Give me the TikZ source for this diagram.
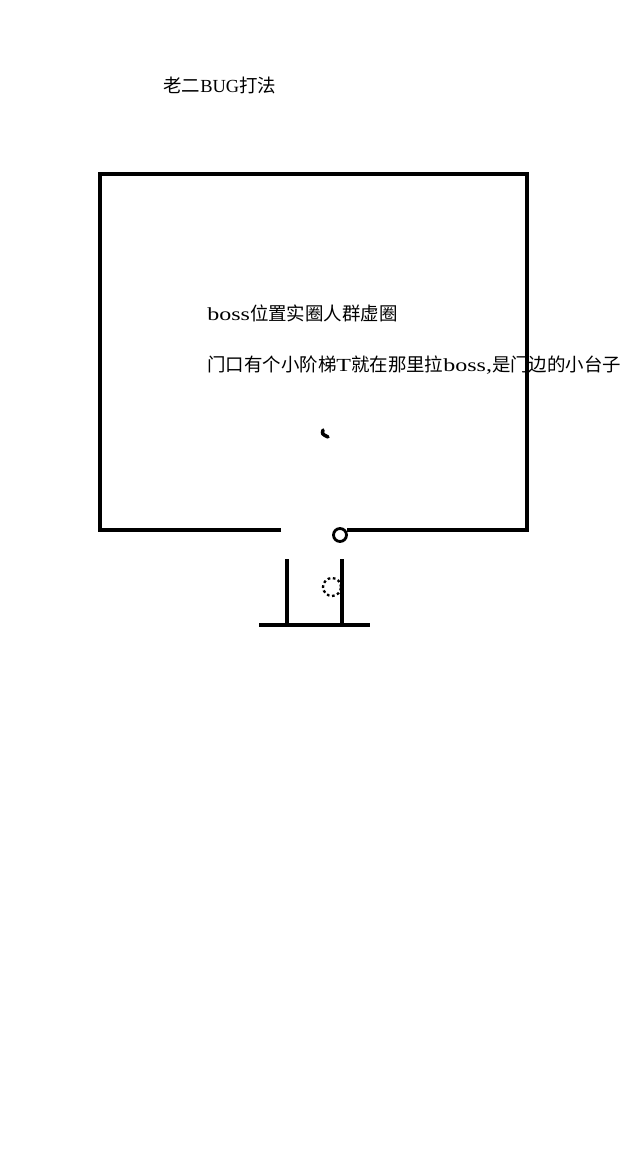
\documentclass[tikz,border=0pt]{standalone}
\usepackage{fontspec}
\newfontfamily\cjk{Noto Sans CJK SC}
\newfontfamily\lat[FakeStretch=1.3]{Liberation Serif}
\newfontfamily\latn{Liberation Serif}
\usepackage{tikz}
\usetikzlibrary{calc,positioning}

\begin{document}
\begin{tikzpicture}[
            x=0.02cm,y=-0.02cm,
            wall/.style={line width=1.8pt},
            txt/.style={anchor=base west,inner sep=0pt,font=\fontsize{10.5pt}{12pt}\cjk},
            boss/.style={draw,circle,line width=1.6pt,inner sep=0pt,minimum size=0.26cm},
            crowd/.style={draw,circle,line width=1.3pt,dash pattern=on 1.5pt off 1.5pt,inner sep=0pt,minimum size=0.36cm}
        ]
            \useasboundingbox (0,0) rectangle (640,1165);

            % texts
            \node[txt] (title) at (163,93)  {老二{\latn BUG}打法};
            \node[txt] (note1) at (207,321) {{\lat boss}位置实圈人群虚圈};
            \node[txt] (note2) at (207,372) {门口有个小阶梯{\lat T}就在那里拉{\lat boss,}是门边的小台子};

            % room
            \coordinate (doorl) at (281,530);
            \coordinate (doorr) at (347,530);
            \draw[wall] (doorl) -- (100,530) -- (100,174) -- (527,174) -- (527,530) -- (doorr);

            % little mark
            \draw[line width=2pt,line cap=round] (323,430) .. controls (322,434) .. (328,437);

            % boss and crowd
            \node[boss]  (bosspos)  at (340,535) {};
            \node[crowd] (crowdpos) at (332,587) {};

            % stairs
            \coordinate (stl) at (287,559);
            \coordinate (str) at (342,559);
            \draw[wall] (stl) -- (stl |- 0,625);
            \draw[wall] (str) -- (str |- 0,625);
            \draw[wall] (259,625) -- (370,625);
        \end{tikzpicture}
\end{document}
